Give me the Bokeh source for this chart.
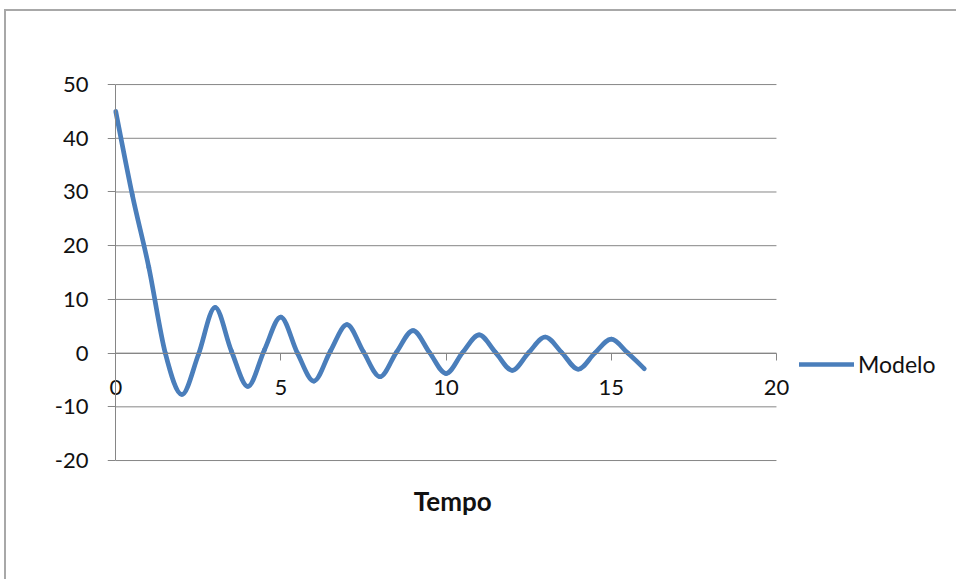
from bokeh.plotting import figure
from bokeh.models import (LinearAxis, FixedTicker, Legend, LegendItem, Range1d, Grid, Label,
                          ColumnDataSource, PrintfTickFormatter)
from bokeh.embed import file_html
from bokeh.resources import INLINE

# ---- data ----
tempo = [0, 0.5, 1, 1.5, 2, 2.5, 3, 3.5, 4, 4.5, 5, 5.5, 6, 6.5, 7, 7.5, 8,
         8.5, 9, 9.5, 10, 10.5, 11, 11.5, 12, 12.5, 13, 13.5, 14, 14.5, 15, 15.5, 16]
modelo = [45.0, 29.5, 16.0, 0.0, -7.7, -0.3, 8.5, 0.4, -6.2, 0.6, 6.7, 0.0, -5.2, 0.4, 5.3, 0.2, -4.4,
          0.2, 4.2, 0.1, -3.8, 0.1, 3.4, 0.1, -3.2, 0.1, 3.0, 0.1, -3.0, 0.0, 2.6, 0.0, -2.9]
x_ticks = [0, 5, 10, 15, 20]
y_ticks = [-20, -10, 0, 10, 20, 30, 40, 50]
series_name = "Modelo"
x_title = "Tempo"

# smoothed line (Excel-like Catmull-Rom Bezier) built from the data points
n = len(tempo)
def pt(i):
    i = max(0, min(n - 1, i))
    return tempo[i], modelo[i]
seg = dict(x0=[], y0=[], x1=[], y1=[], cx0=[], cy0=[], cx1=[], cy1=[])
for i in range(n - 1):
    xa, ya = pt(i - 1); xb, yb = pt(i); xc, yc = pt(i + 1); xd, yd = pt(i + 2)
    seg["x0"].append(xb); seg["y0"].append(yb)
    seg["x1"].append(xc); seg["y1"].append(yc)
    seg["cx0"].append(xb + (xc - xa) / 6); seg["cy0"].append(yb + (yc - ya) / 6)
    seg["cx1"].append(xc - (xd - xb) / 6); seg["cy1"].append(yc - (yd - yb) / 6)
src = ColumnDataSource(seg)

grid_src = ColumnDataSource(dict(x0=[x_ticks[0]] * len(y_ticks), x1=[x_ticks[-1]] * len(y_ticks),
                                 y=y_ticks))

GRAY = "#868686"
FONT = "Lato"
TXT = "#111111"

# frame: left edge 8 px left of x=0, right edge near the window edge (room for the legend),
# bottom edge below the axis title
p = figure(width=952, height=570, output_backend="svg", toolbar_location=None,
           x_range=Range1d(-0.25, 25.45), y_range=Range1d(-31.35, 50.2),
           x_axis_location=None, y_axis_location=None,
           min_border_left=101, min_border_right=2, min_border_top=72, min_border_bottom=60,
           background_fill_color="white", border_fill_color="white")
p.outline_line_color = None
p.center = [c for c in p.center if not isinstance(c, Grid)]
p.styles = {"margin-left": "4px", "margin-top": "9px",
            "border-left": "2px solid #a8a8a8", "border-top": "2px solid #a8a8a8"}

# horizontal gridlines between the first and last x tick
p.segment(x0="x0", x1="x1", y0="y", y1="y", source=grid_src, line_color=GRAY, line_width=1)

# y labels (left panel)
ylabels = LinearAxis(ticker=FixedTicker(ticks=y_ticks), formatter=PrintfTickFormatter(format="%d"),
                     axis_line_color=None, major_tick_line_color=None, minor_tick_line_color=None,
                     major_tick_out=0, major_tick_in=0, major_label_standoff=19,
                     major_label_text_font=FONT, major_label_text_font_size="22px",
                     major_label_text_color=TXT)
p.add_layout(ylabels, "left")

# y axis line and ticks at x = 0
yaxis = LinearAxis(ticker=FixedTicker(ticks=y_ticks), fixed_location=0, bounds=(y_ticks[0], y_ticks[-1]),
                   axis_line_color=GRAY, axis_line_width=1,
                   major_tick_line_color=GRAY, major_tick_out=8, major_tick_in=0,
                   minor_tick_line_color=None, major_label_standoff=0,
                   major_label_overrides={t: "" for t in y_ticks})
p.add_layout(yaxis, "left")

# x axis crossing at y = 0
xaxis = LinearAxis(ticker=FixedTicker(ticks=x_ticks), fixed_location=0, bounds=(x_ticks[0], x_ticks[-1]),
                   formatter=PrintfTickFormatter(format="%d"),
                   axis_line_color=GRAY, axis_line_width=1,
                   major_tick_line_color=GRAY, major_tick_out=7, major_tick_in=0,
                   minor_tick_line_color=None, major_label_standoff=20,
                   major_label_text_font=FONT, major_label_text_font_size="22px",
                   major_label_text_color=TXT)
p.add_layout(xaxis, "below")

# axis title
p.add_layout(Label(x=10.2, y=-27.6, text=x_title, text_align="center", text_baseline="middle",
                   text_font=FONT, text_font_style="bold", text_font_size="26px", text_color=TXT))

r = p.bezier(x0="x0", y0="y0", x1="x1", y1="y1", cx0="cx0", cy0="cy0", cx1="cx1", cy1="cy1",
             source=src, line_color="#4A7EBB", line_width=4.7, line_cap="round")

legend = Legend(items=[LegendItem(label=series_name, renderers=[r])], location=(692, 143),
                padding=0, margin=0, spacing=0, border_line_color=None, background_fill_alpha=0,
                glyph_width=55, glyph_height=20, label_height=20, label_standoff=4,
                label_text_font=FONT, label_text_font_size="23px", label_text_color=TXT)
p.add_layout(legend, "center")

open("out.html", "w").write(file_html(p, INLINE))
